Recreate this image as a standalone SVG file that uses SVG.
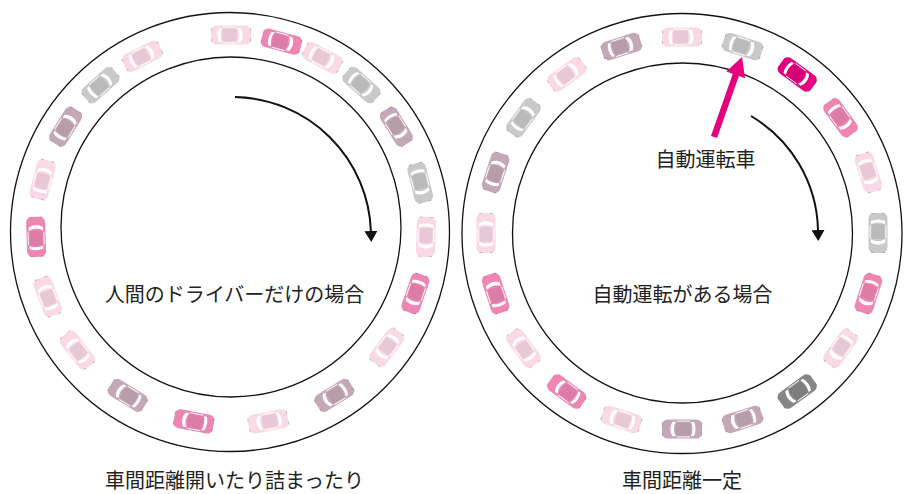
<svg xmlns="http://www.w3.org/2000/svg" xmlns:xlink="http://www.w3.org/1999/xlink" width="904" height="494" viewBox="0 0 904 494">
  <style>
    .road { fill: none; stroke: #111; stroke-width: 1.3; }
    .flow { fill: none; stroke: #111; stroke-width: 2; }
    .label { font-family: "Noto Sans CJK JP", "Noto Sans", sans-serif; font-size: 20px; fill: #222; text-anchor: middle; }
    .lp { fill: #f9d9e6; }
    .pk { fill: #ee86b4; }
    .gy { fill: #c9c9c9; }
    .mv { fill: #c5a8b7; }
    .mg { fill: #e4007f; }
    .dg { fill: #878787; }
  </style>
  <defs>
    <!-- top-view car, heading +x, centred on the origin -->
    <g id="car">
      <rect x="-20" y="-9.5" width="40" height="19" rx="5.5"/>
      <rect x="-9" y="-6.5" width="15" height="13" rx="2" fill="#000" opacity="0.07"/>
      <path d="M6,-7.2 Q10.5,0 6,7.2 L9.5,7.2 Q14,0 9.5,-7.2 Z" fill="#fff"/>
      <path d="M-9,-7 Q-12,0 -9,7 L-12,7 Q-15,0 -12,-7 Z" fill="#fff"/>
      <path d="M-8,-7.9 H5 M-8,7.9 H5" stroke="#fff" stroke-width="0.9"/>
      <path d="M-19.6,-7 V-4 M-19.6,4 V7 M19.6,-7 V-4 M19.6,4 V7" stroke="#000" stroke-opacity="0.25" stroke-width="0.8"/>
    </g>
    <marker id="head" markerUnits="userSpaceOnUse" markerWidth="12" markerHeight="13" viewBox="0 0 12 13" refX="0" refY="6.5" orient="auto">
      <path d="M0,0 L11,6.5 L0,13 Z" fill="#111"/>
    </marker>
  </defs>

  <!-- left ring: human drivers -->
  <g id="ring-human">
    <circle class="road" cx="230" cy="232" r="219.5"/>
    <circle class="road" cx="231" cy="227" r="170"/>
    <g id="cars-human">
      <use xlink:href="#car" class="lp" transform="translate(231 230) rotate(-90) translate(195 0) rotate(90)"/>
      <use xlink:href="#car" class="pk" transform="translate(231 230) rotate(-75) translate(195 0) rotate(90)"/>
      <use xlink:href="#car" class="lp" transform="translate(231 230) rotate(-62) translate(195 0) rotate(90)"/>
      <use xlink:href="#car" class="gy" transform="translate(231 230) rotate(-48) translate(195 0) rotate(90)"/>
      <use xlink:href="#car" class="mv" transform="translate(231 230) rotate(-32) translate(195 0) rotate(90)"/>
      <use xlink:href="#car" class="gy" transform="translate(231 230) rotate(-14) translate(195 0) rotate(90)"/>
      <use xlink:href="#car" class="lp" transform="translate(231 230) rotate(2) translate(195 0) rotate(90)"/>
      <use xlink:href="#car" class="pk" transform="translate(231 230) rotate(19) translate(195 0) rotate(90)"/>
      <use xlink:href="#car" class="lp" transform="translate(231 230) rotate(37) translate(195 0) rotate(90)"/>
      <use xlink:href="#car" class="mv" transform="translate(231 230) rotate(58) translate(195 0) rotate(90)"/>
      <use xlink:href="#car" class="lp" transform="translate(231 230) rotate(79) translate(195 0) rotate(90)"/>
      <use xlink:href="#car" class="pk" transform="translate(231 230) rotate(101) translate(195 0) rotate(90)"/>
      <use xlink:href="#car" class="mv" transform="translate(231 230) rotate(122) translate(195 0) rotate(90)"/>
      <use xlink:href="#car" class="lp" transform="translate(231 230) rotate(142) translate(195 0) rotate(90)"/>
      <use xlink:href="#car" class="lp" transform="translate(231 230) rotate(160) translate(195 0) rotate(90)"/>
      <use xlink:href="#car" class="pk" transform="translate(231 230) rotate(178) translate(195 0) rotate(90)"/>
      <use xlink:href="#car" class="lp" transform="translate(231 230) rotate(195) translate(195 0) rotate(90)"/>
      <use xlink:href="#car" class="mv" transform="translate(231 230) rotate(212) translate(195 0) rotate(90)"/>
      <use xlink:href="#car" class="gy" transform="translate(231 230) rotate(228) translate(195 0) rotate(90)"/>
      <use xlink:href="#car" class="lp" transform="translate(231 230) rotate(243) translate(195 0) rotate(90)"/>
    </g>
    <text class="label" x="234.5" y="302">人間のドライバーだけの場合</text>
  </g>

  <!-- right ring: with an automated car -->
  <g id="ring-auto">
    <circle class="road" cx="682" cy="233.5" r="220"/>
    <circle class="road" cx="682.5" cy="233" r="170"/>
    <g id="cars-auto">
      <use xlink:href="#car" class="lp" transform="translate(682 233) rotate(-90) translate(196 0) rotate(90)"/>
      <use xlink:href="#car" class="gy" transform="translate(682 233) rotate(-72) translate(196 0) rotate(90)"/>
      <use xlink:href="#car" class="mg" transform="translate(682 233) rotate(-54) translate(196 0) rotate(90)"/>
      <use xlink:href="#car" class="pk" transform="translate(682 233) rotate(-36) translate(196 0) rotate(90)"/>
      <use xlink:href="#car" class="lp" transform="translate(682 233) rotate(-18) translate(196 0) rotate(90)"/>
      <use xlink:href="#car" class="gy" transform="translate(682 233) rotate(0) translate(196 0) rotate(90)"/>
      <use xlink:href="#car" class="pk" transform="translate(682 233) rotate(18) translate(196 0) rotate(90)"/>
      <use xlink:href="#car" class="lp" transform="translate(682 233) rotate(36) translate(196 0) rotate(90)"/>
      <use xlink:href="#car" class="dg" transform="translate(682 233) rotate(54) translate(196 0) rotate(90)"/>
      <use xlink:href="#car" class="mv" transform="translate(682 233) rotate(72) translate(196 0) rotate(90)"/>
      <use xlink:href="#car" class="mv" transform="translate(682 233) rotate(90) translate(196 0) rotate(90)"/>
      <use xlink:href="#car" class="lp" transform="translate(682 233) rotate(108) translate(196 0) rotate(90)"/>
      <use xlink:href="#car" class="pk" transform="translate(682 233) rotate(126) translate(196 0) rotate(90)"/>
      <use xlink:href="#car" class="lp" transform="translate(682 233) rotate(144) translate(196 0) rotate(90)"/>
      <use xlink:href="#car" class="pk" transform="translate(682 233) rotate(162) translate(196 0) rotate(90)"/>
      <use xlink:href="#car" class="lp" transform="translate(682 233) rotate(180) translate(196 0) rotate(90)"/>
      <use xlink:href="#car" class="mv" transform="translate(682 233) rotate(198) translate(196 0) rotate(90)"/>
      <use xlink:href="#car" class="gy" transform="translate(682 233) rotate(216) translate(196 0) rotate(90)"/>
      <use xlink:href="#car" class="lp" transform="translate(682 233) rotate(234) translate(196 0) rotate(90)"/>
      <use xlink:href="#car" class="mv" transform="translate(682 233) rotate(252) translate(196 0) rotate(90)"/>
    </g>
    <text class="label" x="682.5" y="302">自動運転がある場合</text>
  </g>

  <!-- direction of travel and pointer -->
  <g id="connectors">
    <path class="flow" d="M235,97 A139,139 0 0 1 370.9,231" marker-end="url(#head)"/>
    <path class="flow" d="M751,116 A136,136 0 0 1 818,230" marker-end="url(#head)"/>
    <line x1="714" y1="137" x2="736.5" y2="73" stroke="#e4007f" stroke-width="6.5"/>
    <polygon points="742,57 745.1,78.2 726.3,71.6" fill="#e4007f"/>
  </g>

  <g id="label-auto-car">
    <text class="label" x="705.5" y="167">自動運転車</text>
  </g>
  <g id="caption-human">
    <text class="label" x="234.5" y="488">車間距離開いたり詰まったり</text>
  </g>
  <g id="caption-auto">
    <text class="label" x="682" y="488">車間距離一定</text>
  </g>
</svg>
